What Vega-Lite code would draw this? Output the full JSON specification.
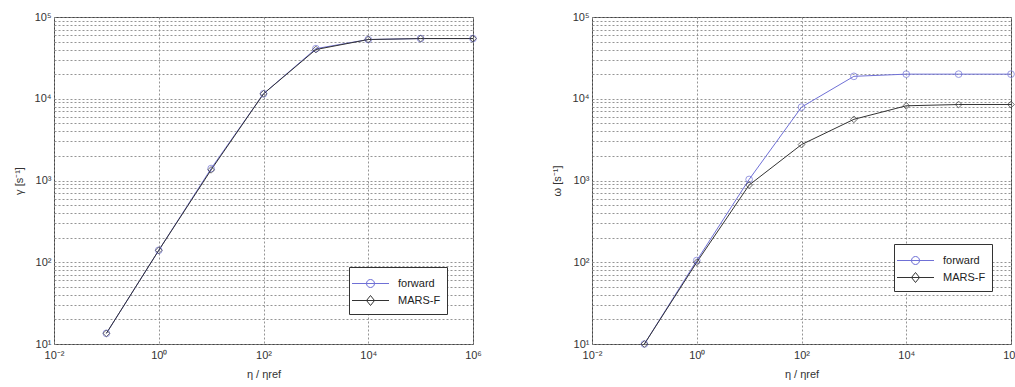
{
  "$schema": "https://vega.github.io/schema/vega-lite/v6.json",
  "autosize": {"type": "pad"},
  "padding": {"left": 12, "top": 10, "right": 0, "bottom": 0},
  "background": "white",
  "config": {
    "view": {"stroke": "#444444", "strokeWidth": 1},
    "axis": {
      "labelFont": "Liberation Sans", "labelFontSize": 11, "labelColor": "#333333",
      "titleFont": "Liberation Sans", "titleFontSize": 11, "titleFontWeight": "normal", "titleColor": "#333333",
      "domain": false, "ticks": false, "labelOverlap": false, "labelFlush": false,
      "grid": true, "gridColor": "#8a8a8a", "gridDash": [2, 2], "gridWidth": 1, "gridOpacity": 0.9
    },
    "legend": {
      "labelFont": "Liberation Sans", "labelFontSize": 11, "labelColor": "#222222",
      "fillColor": "white", "strokeColor": "#333333", "padding": 6, "rowPadding": -4,
      "symbolStrokeWidth": 1, "labelOffset": 17, "symbolOffset": 5
    }
  },
  "data": {"values": [
    {"panel": "gamma", "series": "forward", "x": 0.1, "y": 13.5},
    {"panel": "gamma", "series": "forward", "x": 1, "y": 140},
    {"panel": "gamma", "series": "forward", "x": 10, "y": 1400},
    {"panel": "gamma", "series": "forward", "x": 100, "y": 11500},
    {"panel": "gamma", "series": "forward", "x": 1000, "y": 41000},
    {"panel": "gamma", "series": "forward", "x": 10000, "y": 53000},
    {"panel": "gamma", "series": "forward", "x": 100000, "y": 54500},
    {"panel": "gamma", "series": "forward", "x": 1000000, "y": 54500},
    {"panel": "gamma", "series": "MARS-F", "x": 0.1, "y": 13.5},
    {"panel": "gamma", "series": "MARS-F", "x": 1, "y": 140},
    {"panel": "gamma", "series": "MARS-F", "x": 10, "y": 1350},
    {"panel": "gamma", "series": "MARS-F", "x": 100, "y": 11500},
    {"panel": "gamma", "series": "MARS-F", "x": 1000, "y": 40000},
    {"panel": "gamma", "series": "MARS-F", "x": 10000, "y": 53000},
    {"panel": "gamma", "series": "MARS-F", "x": 100000, "y": 54500},
    {"panel": "gamma", "series": "MARS-F", "x": 1000000, "y": 54500},
    {"panel": "omega", "series": "forward", "x": 0.1, "y": 10},
    {"panel": "omega", "series": "forward", "x": 1, "y": 105},
    {"panel": "omega", "series": "forward", "x": 10, "y": 1030},
    {"panel": "omega", "series": "forward", "x": 100, "y": 7900},
    {"panel": "omega", "series": "forward", "x": 1000, "y": 18800},
    {"panel": "omega", "series": "forward", "x": 10000, "y": 20000},
    {"panel": "omega", "series": "forward", "x": 100000, "y": 20000},
    {"panel": "omega", "series": "forward", "x": 1000000, "y": 20000},
    {"panel": "omega", "series": "MARS-F", "x": 0.1, "y": 10},
    {"panel": "omega", "series": "MARS-F", "x": 1, "y": 100},
    {"panel": "omega", "series": "MARS-F", "x": 10, "y": 880},
    {"panel": "omega", "series": "MARS-F", "x": 100, "y": 2750},
    {"panel": "omega", "series": "MARS-F", "x": 1000, "y": 5600},
    {"panel": "omega", "series": "MARS-F", "x": 10000, "y": 8200},
    {"panel": "omega", "series": "MARS-F", "x": 100000, "y": 8500},
    {"panel": "omega", "series": "MARS-F", "x": 1000000, "y": 8500}
  ]},
  "hconcat": [
    {
      "width": 419, "height": 327,
      "transform": [{"filter": "datum.panel == 'gamma'"}],
      "encoding": {
        "x": {"field": "x", "type": "quantitative",
          "scale": {"type": "log", "domain": [0.01, 1000000], "nice": false},
          "axis": {"title": "η / ηref", "values": [0.01, 1, 100, 10000, 1000000], "labelPadding": 5, "titlePadding": 8,
            "labelExpr": "datum.value < 0.1 ? '10⁻²' : datum.value < 10 ? '10⁰' : datum.value < 1000 ? '10²' : datum.value < 100000 ? '10⁴' : '10⁶'"}},
        "y": {"field": "y", "type": "quantitative",
          "scale": {"type": "log", "domain": [10, 100000], "nice": false},
          "axis": {"title": "γ [s⁻¹]", "titlePadding": 10, "labelPadding": 3,
            "values": [10,20,30,40,50,60,70,80,90,100,200,300,400,500,600,700,800,900,1000,2000,3000,4000,5000,6000,7000,8000,9000,10000,20000,30000,40000,50000,60000,70000,80000,90000,100000],
            "labelExpr": "datum.value == 10 ? '10¹' : datum.value == 100 ? '10²' : datum.value == 1000 ? '10³' : datum.value == 10000 ? '10⁴' : datum.value == 100000 ? '10⁵' : ''"}},
        "color": {"field": "series", "type": "nominal",
          "scale": {"domain": ["forward", "MARS-F"], "range": ["#6f70d6", "#333333"]},
          "legend": {"title": null, "orient": "none", "legendX": 295, "legendY": 250,
            "symbolType": "M-1.85,0L1.85,0M-0.4,0A0.4,0.4,0,1,1,0.4,0A0.4,0.4,0,1,1,-0.4,0", "symbolSize": 400,
            "encode": {"symbols": {"update": {
              "shape": {"signal": "datum.value == 'forward' ? 'M-1.85,0L1.85,0M-0.4,0A0.4,0.4,0,1,1,0.4,0A0.4,0.4,0,1,1,-0.4,0' : 'M-1.85,0L1.85,0M-0.4,0L0,-0.5L0.4,0L0,0.5Z'"},
              "fill": {"value": "transparent"}}}}}}
      },
      "layer": [
        {"mark": {"type": "line", "strokeWidth": 1}},
        {"transform": [{"filter": "datum.series == 'forward'"}],
          "mark": {"type": "point", "shape": "circle", "filled": false, "size": 45, "strokeWidth": 1}},
        {"transform": [{"filter": "datum.series == 'MARS-F'"}],
          "mark": {"type": "point", "shape": "diamond", "filled": false, "size": 45, "strokeWidth": 1}}
      ]
    },
    {
      "width": 419, "height": 327,
      "transform": [{"filter": "datum.panel == 'omega'"}],
      "encoding": {
        "x": {"field": "x", "type": "quantitative",
          "scale": {"type": "log", "domain": [0.01, 1000000], "nice": false},
          "axis": {"title": "η / ηref", "values": [0.01, 1, 100, 10000, 1000000], "labelPadding": 5, "titlePadding": 8,
            "labelExpr": "datum.value < 0.1 ? '10⁻²' : datum.value < 10 ? '10⁰' : datum.value < 1000 ? '10²' : datum.value < 100000 ? '10⁴' : '10⁶'"}},
        "y": {"field": "y", "type": "quantitative",
          "scale": {"type": "log", "domain": [10, 100000], "nice": false},
          "axis": {"title": "ω [s⁻¹]", "titlePadding": 10, "labelPadding": 3,
            "values": [10,20,30,40,50,60,70,80,90,100,200,300,400,500,600,700,800,900,1000,2000,3000,4000,5000,6000,7000,8000,9000,10000,20000,30000,40000,50000,60000,70000,80000,90000,100000],
            "labelExpr": "datum.value == 10 ? '10¹' : datum.value == 100 ? '10²' : datum.value == 1000 ? '10³' : datum.value == 10000 ? '10⁴' : datum.value == 100000 ? '10⁵' : ''"}},
        "color": {"field": "series", "type": "nominal",
          "scale": {"domain": ["forward", "MARS-F"], "range": ["#6f70d6", "#333333"]},
          "legend": {"title": null, "orient": "none", "legendX": 302, "legendY": 227,
            "symbolType": "M-1.85,0L1.85,0M-0.4,0A0.4,0.4,0,1,1,0.4,0A0.4,0.4,0,1,1,-0.4,0", "symbolSize": 400,
            "encode": {"symbols": {"update": {
              "shape": {"signal": "datum.value == 'forward' ? 'M-1.85,0L1.85,0M-0.4,0A0.4,0.4,0,1,1,0.4,0A0.4,0.4,0,1,1,-0.4,0' : 'M-1.85,0L1.85,0M-0.4,0L0,-0.5L0.4,0L0,0.5Z'"},
              "fill": {"value": "transparent"}}}}}}
      },
      "layer": [
        {"mark": {"type": "line", "strokeWidth": 1}},
        {"transform": [{"filter": "datum.series == 'forward'"}],
          "mark": {"type": "point", "shape": "circle", "filled": false, "size": 45, "strokeWidth": 1}},
        {"transform": [{"filter": "datum.series == 'MARS-F'"}],
          "mark": {"type": "point", "shape": "diamond", "filled": false, "size": 45, "strokeWidth": 1}}
      ]
    }
  ],
  "bounds": "flush",
  "spacing": 119,
  "resolve": {"scale": {"color": "independent"}, "legend": {"color": "independent"}}
}
